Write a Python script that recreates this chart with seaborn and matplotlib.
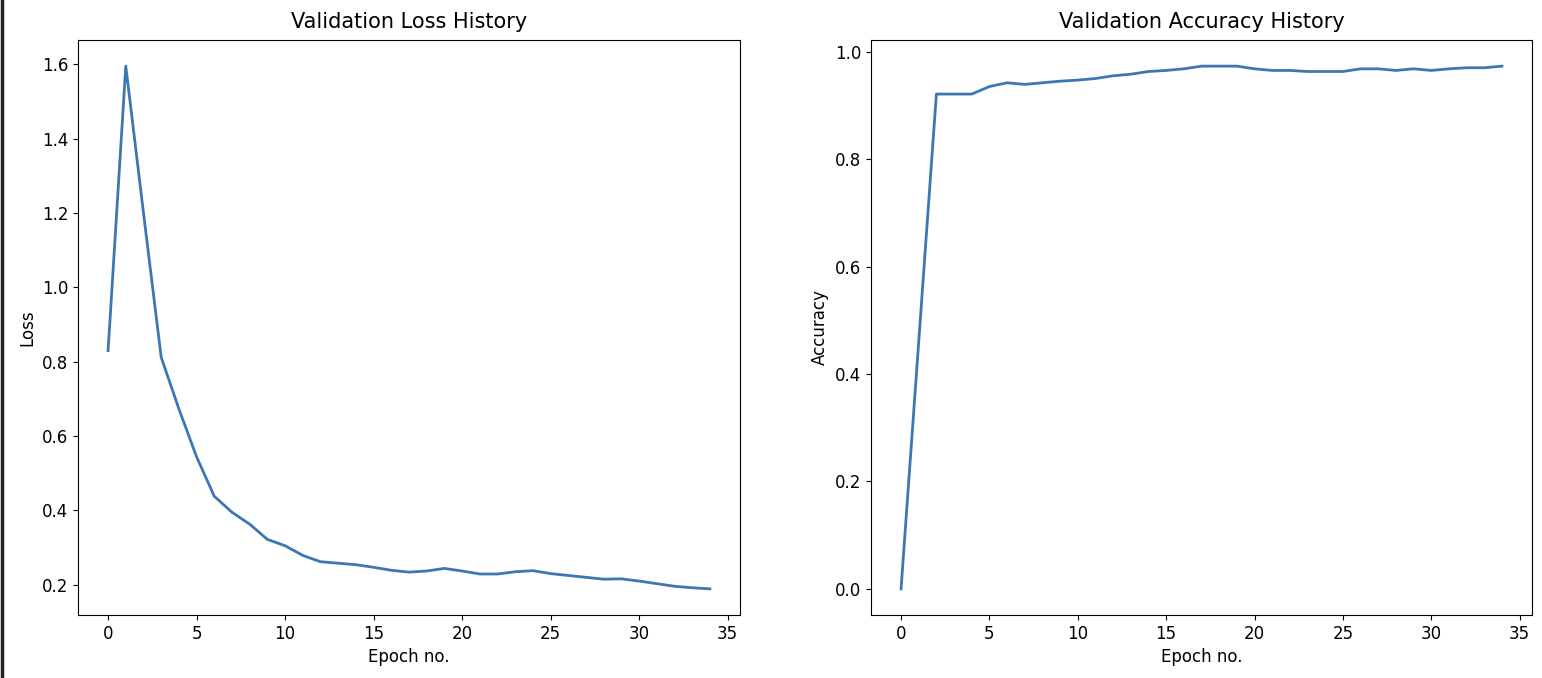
import numpy as np
import pandas as pd
import matplotlib.pyplot as plt
import matplotlib.lines as mlines
import seaborn as sns

# values
epochs = list(range(35))
val_loss = [0.83, 1.595, 1.20, 0.812, 0.673, 0.544, 0.438, 0.395, 0.363, 0.322,
            0.305, 0.279, 0.262, 0.258, 0.254, 0.247, 0.239, 0.234, 0.237, 0.244,
            0.237, 0.229, 0.229, 0.235, 0.238, 0.230, 0.225, 0.220, 0.215, 0.216,
            0.210, 0.203, 0.196, 0.192, 0.189]
val_acc = [0.0, 0.46, 0.921, 0.921, 0.921, 0.935, 0.942, 0.939, 0.942, 0.945,
           0.947, 0.950, 0.955, 0.958, 0.963, 0.965, 0.968, 0.973, 0.973, 0.973,
           0.968, 0.965, 0.965, 0.963, 0.963, 0.963, 0.968, 0.968, 0.965, 0.968,
           0.965, 0.968, 0.970, 0.970, 0.973]

line_color = '#3b78b3'
W, H = 1542, 678

df = pd.DataFrame({'epoch': epochs, 'loss': val_loss, 'acc': val_acc})

fig = plt.figure(figsize=(W / 100, H / 100), dpi=100)
ax_loss = fig.add_axes([78 / W, 1 - 615 / H, (740 - 78) / W, 575 / H])
ax_acc = fig.add_axes([871 / W, 1 - 615 / H, (1532 - 871) / W, 575 / H])

sns.lineplot(data=df, x='epoch', y='loss', ax=ax_loss, color=line_color, linewidth=2)
ax_loss.set_title("Validation Loss History", fontsize=15, pad=9)
ax_loss.set_xlabel("Epoch no.", fontsize=12)
ax_loss.set_ylabel("Loss", fontsize=12)

sns.lineplot(data=df, x='epoch', y='acc', ax=ax_acc, color=line_color, linewidth=2)
ax_acc.set_title("Validation Accuracy History", fontsize=15, pad=9)
ax_acc.set_xlabel("Epoch no.", fontsize=12)
ax_acc.set_ylabel("Accuracy", fontsize=12)

for ax in (ax_loss, ax_acc):
    ax.tick_params(labelsize=12)

# dark edge at the far left of the screenshot
fig.add_artist(mlines.Line2D([0.001, 0.001], [0, 1], color='#222222', linewidth=2.5,
                             transform=fig.transFigure))

fig.savefig('out.png', dpi=100)
